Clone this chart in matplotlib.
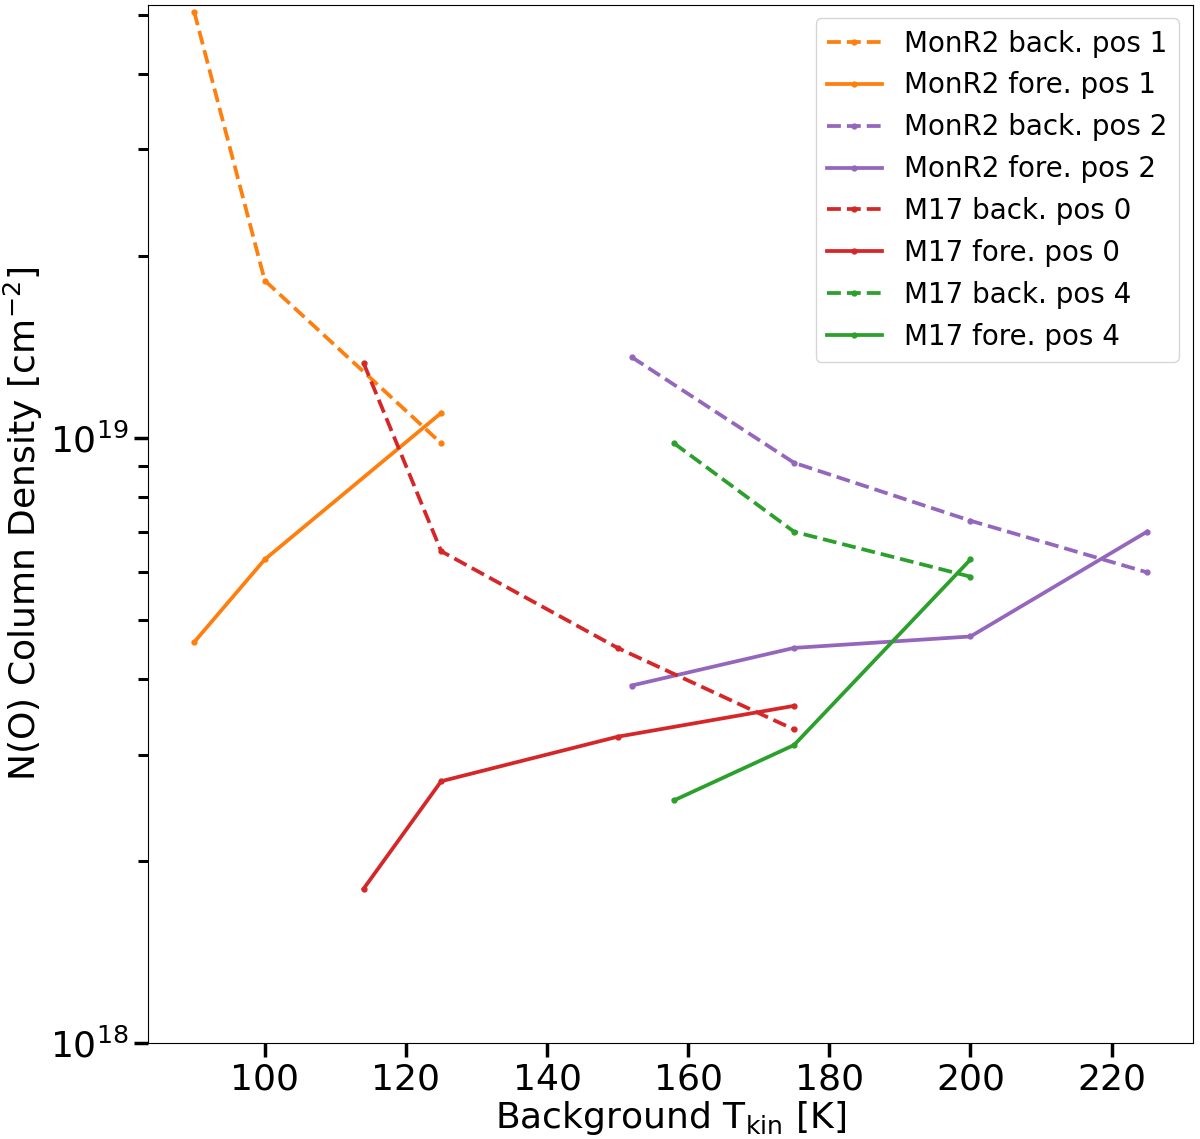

# N(O) column density vs background kinetic temperature
import matplotlib.pyplot as plt

# MonR2 position 1 (orange)
t_monr2_p1 = [90, 100, 125]
back_monr2_p1 = [5.06e19, 1.82e19, 9.8e18]
fore_monr2_p1 = [4.6e18, 6.3e18, 1.10e19]

# MonR2 position 2 (purple)
t_monr2_p2 = [152, 175, 200, 225]
back_monr2_p2 = [1.36e19, 9.1e18, 7.3e18, 6.0e18]
fore_monr2_p2 = [3.9e18, 4.5e18, 4.7e18, 7.0e18]

# M17 position 0 (red)
t_m17_p0 = [114, 125, 150, 175]
back_m17_p0 = [1.33e19, 6.5e18, 4.5e18, 3.3e18]
fore_m17_p0 = [1.80e18, 2.71e18, 3.21e18, 3.61e18]

# M17 position 4 (green)
t_m17_p4 = [158, 175, 200]
back_m17_p4 = [9.8e18, 7.0e18, 5.9e18]
fore_m17_p4 = [2.52e18, 3.11e18, 6.3e18]

fig = plt.figure(figsize=(12, 11.39), dpi=100)
ax = fig.add_axes([0.123, 0.084, 0.871, 0.912])

lw = 2.7
ms = 7
ax.plot(t_monr2_p1, back_monr2_p1, "--", marker=".", ms=ms, lw=lw, color="tab:orange", label="MonR2 back. pos 1")
ax.plot(t_monr2_p1, fore_monr2_p1, "-", marker=".", ms=ms, lw=lw, color="tab:orange", label="MonR2 fore. pos 1")
ax.plot(t_monr2_p2, back_monr2_p2, "--", marker=".", ms=ms, lw=lw, color="tab:purple", label="MonR2 back. pos 2")
ax.plot(t_monr2_p2, fore_monr2_p2, "-", marker=".", ms=ms, lw=lw, color="tab:purple", label="MonR2 fore. pos 2")
ax.plot(t_m17_p0, back_m17_p0, "--", marker=".", ms=ms, lw=lw, color="tab:red", label="M17 back. pos 0")
ax.plot(t_m17_p0, fore_m17_p0, "-", marker=".", ms=ms, lw=lw, color="tab:red", label="M17 fore. pos 0")
ax.plot(t_m17_p4, back_m17_p4, "--", marker=".", ms=ms, lw=lw, color="tab:green", label="M17 back. pos 4")
ax.plot(t_m17_p4, fore_m17_p4, "-", marker=".", ms=ms, lw=lw, color="tab:green", label="M17 fore. pos 4")

ax.set_yscale("log")
ax.set_ylim(1e18, 5.2e19)
ax.set_xlim(83.4, 231.5)
ax.set_xticks([100, 120, 140, 160, 180, 200, 220])

ax.set_xlabel(r"Background T$_{\rm kin}$ [K]", fontsize=26, labelpad=2)
ax.set_ylabel(r"N(O) Column Density [cm$^{-2}$]", fontsize=26)
ax.tick_params(which="major", labelsize=26, length=10, width=2.5)
ax.tick_params(which="minor", length=7, width=2.2)

ax.legend(loc="upper right", fontsize=20)

plt.savefig("out.png")
